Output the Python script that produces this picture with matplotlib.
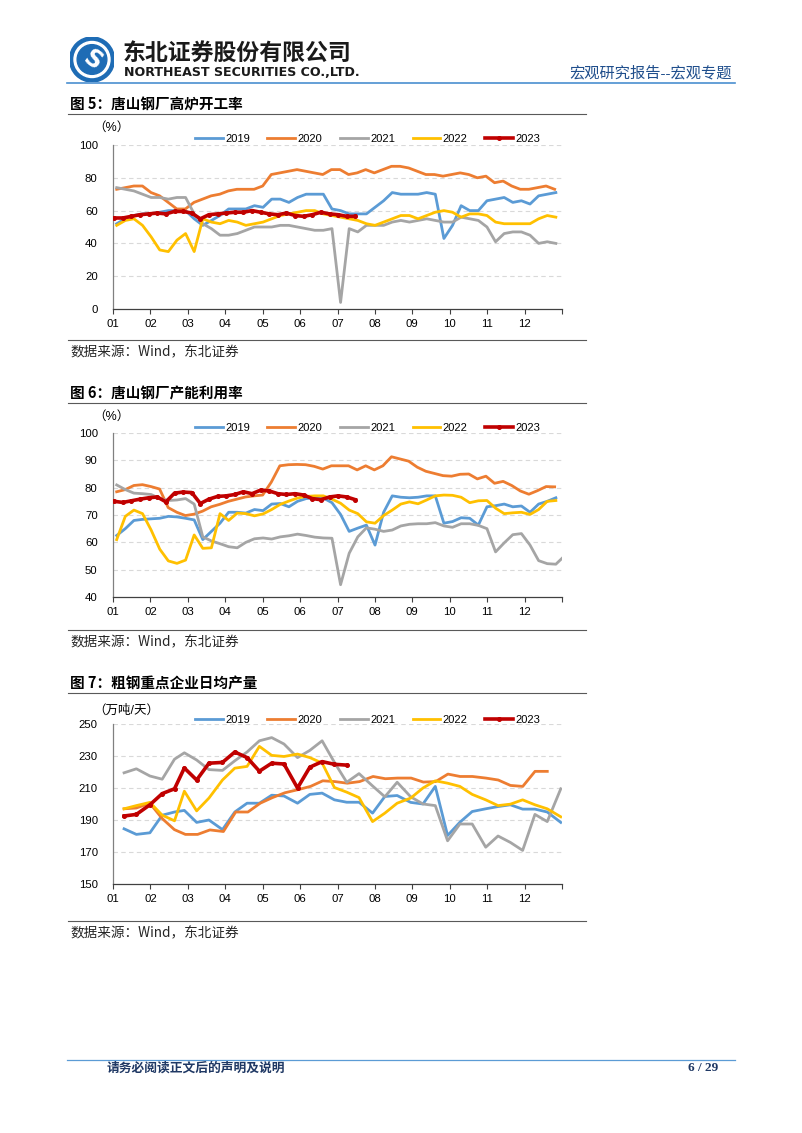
import numpy as np
import pandas as pd
import matplotlib
matplotlib.use("Agg")
import matplotlib.pyplot as plt
from matplotlib.patches import Circle
from matplotlib.lines import Line2D

plt.rcParams['font.family'] = ['Liberation Sans', 'Noto Sans CJK SC']

W, H = 802, 1133

# 图5 唐山钢厂高炉开工率 (%), 周度
bf_2019 = [52, 55, 57, 58, 58, 59, 60, 60, 60, 55, 51, 54, 57, 61, 61, 61, 63, 62, 67, 67,
           65, 68, 70, 70, 70, 61, 60, 58, 58, 58, 62, 66, 71, 70, 70, 70, 71, 70, 43, 51,
           63, 60, 60, 66, 67, 68, 65, 66, 64, 69, 70, 71]
bf_2020 = [73, 74, 75, 75, 71, 69, 65, 61, 61, 65, 67, 69, 70, 72, 73, 73, 73, 75, 82, 83,
           84, 85, 84, 83, 82, 85, 85, 82, 83, 85, 83, 85, 87, 87, 86, 84, 82, 82, 81, 82,
           83, 82, 80, 81, 77, 78, 75, 73, 73, 74, 75, 73]
bf_2021 = [74, 73, 72, 70, 68, 68, 67, 68, 68, 58, 52, 49, 45, 45, 46, 48, 50, 50, 50, 51,
           51, 50, 49, 48, 48, 49, 4, 49, 47, 51, 51, 51, 53, 54, 53, 54, 55, 54, 53, 53,
           56, 55, 54, 50, 41, 46, 47, 47, 45, 40, 41, 40]
bf_2022 = [51, 54, 55, 51, 44, 36, 35, 42, 46, 35, 55, 53, 52, 54, 53, 51, 52, 53, 55, 57,
           58, 59, 60, 60, 58, 57, 56, 55, 54, 52, 51, 53, 55, 57, 57, 55, 57, 59, 60, 59,
           56, 58, 58, 57, 53, 52, 52, 52, 52, 55, 57, 56]
bf_2023 = [55.5, 55.5, 56.5, 57.5, 58, 58.5, 58, 59.5, 59.5, 58.5, 55, 57.5, 58, 58.5, 59,
           59, 60, 59, 58, 57.5, 58.5, 57, 56.5, 57.5, 59, 58, 57.5, 56.5, 56.5]

# 图6 唐山钢厂产能利用率 (%), 周度
cu_2019 = [62.5, 65, 68, 68.4, 68.6, 68.8, 69.5, 69.3, 68.8, 68.2, 61, 64, 67, 71, 71,
           70.7, 72, 71.6, 74, 74.2, 73, 75, 76, 76.3, 76.2, 74.5, 70.2, 64, 65.2, 66.3,
           59, 71, 77, 76.5, 76.3, 76.5, 77, 77, 67, 67.6, 69, 68.8, 66.3, 73, 73.4,
           74, 73, 73.3, 71, 74, 75, 76.3]
cu_2020 = [78.5, 79.3, 80.8, 81.1, 80.4, 79.5, 72.7, 71, 69.8, 70.3, 71.4, 73, 73.9, 75,
           75.8, 76.6, 77, 77.3, 82, 88, 88.4, 88.5, 88.4, 87.8, 86.8, 88, 88, 88, 86.5,
           88, 86.5, 88, 91.3, 90.5, 89.7, 87.5, 86, 85.2, 84.4, 84.2, 84.9, 85, 83.2,
           84.2, 81.6, 82.3, 80.8, 78.8, 77.6, 78.9, 80.4, 80.3]
cu_2021 = [81, 79.3, 78, 77.8, 77.5, 76, 75.3, 75.5, 76, 74, 62, 60.5, 59.5, 58.4, 58, 60,
           61.3, 61.6, 61.2, 62, 62.4, 63, 62.5, 61.9, 61.6, 61.5, 44.5, 56, 62, 65.3,
           64.8, 64, 64.5, 66, 66.6, 66.8, 66.8, 67.2, 66, 65.5, 66.8, 66.8, 66.2, 65,
           56.5, 59.8, 62.8, 63.2, 59, 53.3, 52.2, 52, 55]
cu_2022 = [61, 69.5, 71.8, 70.5, 64.5, 57.5, 53.2, 52.3, 53.5, 62.7, 57.8, 58, 70.5, 68,
           70.7, 70.5, 69.7, 70.4, 72, 73.9, 75.1, 76.2, 76.8, 77, 77, 75.8, 74.3, 71.8,
           70.5, 67.5, 67, 69.8, 71.8, 74, 74.8, 74.1, 75.5, 77, 77.3, 77.2, 76.5, 74.5,
           75.2, 75.3, 72.5, 70.5, 70.8, 71, 70.2, 72, 75, 75.3]
cu_2023 = [75, 74.6, 75.2, 75.8, 76.3, 76.6, 74.8, 78, 78.4, 78.2, 74.2, 75.8, 76.8, 77,
           77.5, 78.5, 77.8, 79.1, 78.8, 77.8, 77.5, 77.8, 77.3, 76, 75.6, 76.6, 77, 76.6,
           75.6]

# 图7 粗钢重点企业日均产量 (万吨/天), 旬度
cs_2019 = [184.5, 181, 182, 193, 195, 196, 188.5, 190, 184, 195, 200.5, 200.5, 205.5, 205,
           200.5, 206, 206.8, 202.6, 201.1, 201.1, 194.3, 204.7, 205.3, 201, 200, 211,
           180.3, 188.6, 195.3, 197, 198.4, 199.5, 196.8, 196.8, 195, 188.5]
cs_2020 = [197, 197.5, 200.5, 191, 184, 181, 181, 183.8, 182.8, 195, 195, 200.5, 204, 207,
           209, 211, 214.5, 214, 213, 214, 217.2, 215.8, 216.2, 216.2, 213.7, 214, 218.7,
           217.2, 217.2, 216.2, 215, 211.6, 211, 220.4, 220.4]
cs_2021 = [219.5, 222, 217.5, 215.5, 228, 232, 227.5, 221.5, 221, 227, 232.5, 239.5, 241.5,
           237.5, 229, 233.5, 239.5, 226, 213.6, 219, 211.3, 204.5, 213.6, 204.5, 200, 199,
           177, 187.5, 187.5, 173, 180, 176, 171, 193.5, 189, 209.5]
cs_2022 = [197, 199, 201, 193, 189.5, 208, 195.7, 203.7, 215, 222.4, 223.5, 236, 230.4,
           229.7, 231.2, 229, 225.6, 210.3, 207.4, 204, 189, 194.3, 200.5, 203.7, 210,
           214.5, 213, 211, 206, 202.6, 199, 199.9, 202.6, 199.5, 197, 192]
cs_2023 = [192.5, 193.5, 199.5, 206.5, 209.5, 222.5, 215, 225.5, 226, 232.5, 229, 220.5,
           225.5, 225, 210, 223, 226.5, 224.8, 224.3]

years = ['2019', '2020', '2021', '2022', '2023']
colors = ['#5B9BD5', '#ED7D31', '#A5A5A5', '#FFC000', '#C00000']
month_labels = ['01', '02', '03', '04', '05', '06', '07', '08', '09', '10', '11', '12']


def year_pos(dates, year):
    # 把日期换算成 0-12 的月份坐标(以当年1月1日为起点)
    jan1 = pd.Timestamp(f'{year}-01-01')
    days = 366 if jan1.is_leap_year else 365
    return np.asarray((dates - jan1).days, dtype=float) / days * 12


def weekly(year, n, last):
    first_day = 2 if last else 4
    d = pd.date_range(f'{year}-01-{first_day:02d}', periods=n, freq='7D')
    return year_pos(d, year)


def dekad(year, n, last):
    dates = []
    for m in range(1, 13):
        start = pd.Timestamp(f'{year}-{m:02d}-01')
        dates += [start + pd.Timedelta(days=9), start + pd.Timedelta(days=19),
                  start + pd.offsets.MonthEnd(0)]
    return year_pos(pd.DatetimeIndex(dates[:n]), year)


def px_ax(left, top, right, bottom):
    return [left / W, 1 - bottom / H, (right - left) / W, (bottom - top) / H]


def fx(x):
    return x / W


def fy(y):
    return 1 - y / H


fig = plt.figure(figsize=(W / 100, H / 100), dpi=100)


def draw_chart(top, bottom, series, xfunc, ylim, yticks, unit, unit_y, leg_y):
    ax = fig.add_axes(px_ax(113, top, 562, bottom))
    for i, (yr, vals) in enumerate(zip(years, series)):
        last = yr == '2023'
        x = xfunc(yr, len(vals), last)
        if last:
            ax.plot(x, vals, color=colors[i], lw=2.6, marker='o', ms=2.6, zorder=6)
        else:
            ax.plot(x, vals, color=colors[i], lw=2.0, zorder=2 + i)
    ax.set_xlim(0, 12)
    ax.set_ylim(*ylim)
    ax.set_yticks(yticks)
    ax.set_xticks(range(13))
    ax.set_xticklabels(month_labels + [''])
    for yv in yticks[1:]:
        ax.axhline(yv, color='#D9D9D9', lw=0.8, ls=(0, (4, 3)), zorder=1)
    for s in ['top', 'right']:
        ax.spines[s].set_visible(False)
    ax.spines['left'].set_color('#808080')
    ax.spines['bottom'].set_color('#404040')
    ax.spines['left'].set_linewidth(0.9)
    ax.spines['bottom'].set_linewidth(0.9)
    ax.tick_params(axis='y', length=0, pad=11, labelsize=8.2, colors='#000000')
    ax.tick_params(axis='x', length=3.5, width=0.8, pad=4, labelsize=8.2,
                   direction='out', color='#404040')
    handles = [Line2D([], [], color=c, lw=2.6 if y == '2023' else 2.0,
                      marker='o' if y == '2023' else None, ms=2.6)
               for y, c in zip(years, colors)]
    ax.legend(handles, years, loc='center', ncol=5, frameon=False, fontsize=8,
              bbox_to_anchor=(0.567, (bottom - leg_y) / (bottom - top)),
              handlelength=2.5, handletextpad=0.2, columnspacing=1.6,
              borderaxespad=0, borderpad=0)
    fig.text(fx(93), fy(unit_y), unit, fontsize=9, ha='left', va='center')
    return ax


# 页眉
lax = fig.add_axes(px_ax(69, 37, 115, 82))
lax.set_xlim(-1, 1)
lax.set_ylim(-1, 1)
lax.set_aspect('equal')
lax.axis('off')
lax.add_patch(Circle((0, 0), 1.0, color='#1E6CB5'))
lax.add_patch(Circle((0, 0), 0.8, color='white'))
lax.add_patch(Circle((0, 0), 0.66, color='#1E6CB5'))
lax.text(0, -0.02, 'S', color='white', fontsize=17, fontweight='bold',
         ha='center', va='center', rotation=-35, family='DejaVu Sans')

fig.text(fx(123), fy(53), '东北证券股份有限公司', fontsize=16.5, fontweight='heavy',
         family=['Noto Sans CJK SC'], color='#1A1A1A', ha='left', va='center')
fig.text(fx(124), fy(72), 'NORTHEAST SECURITIES CO.,LTD.', fontsize=9.1, fontweight='bold',
         family=['DejaVu Sans'], color='#1A1A1A', ha='left', va='center')
fig.text(fx(732), fy(73), '宏观研究报告--宏观专题', fontsize=11, color='#1F4E8C',
         ha='right', va='center')
fig.add_artist(Line2D([fx(67), fx(735)], [fy(83), fy(83)], color='#4A8FD0', lw=1.2))

# 三张图
charts = [
    (104, '图 5：唐山钢厂高炉开工率', 145, 309, [bf_2019, bf_2020, bf_2021, bf_2022, bf_2023],
     weekly, (0, 100), [0, 20, 40, 60, 80, 100], '（%）', 128, 139, 352),
    (393, '图 6：唐山钢厂产能利用率', 433, 597, [cu_2019, cu_2020, cu_2021, cu_2022, cu_2023],
     weekly, (40, 100), [40, 50, 60, 70, 80, 90, 100], '（%）', 417, 428, 642),
    (683, '图 7：粗钢重点企业日均产量', 724, 884, [cs_2019, cs_2020, cs_2021, cs_2022, cs_2023],
     dekad, (150, 250), [150, 170, 190, 210, 230, 250], '（万吨/天）', 711, 720, 933),
]

for ty, title, top, bottom, series, xf, ylim, yticks, unit, unit_y, leg_y, src_y in charts:
    fig.text(fx(70), fy(ty), title, fontsize=10.5, fontweight='bold', ha='left', va='center',
             family=['Noto Sans CJK SC'])
    fig.add_artist(Line2D([fx(68), fx(586)], [fy(ty + 10), fy(ty + 10)],
                          color='#595959', lw=0.8))
    draw_chart(top, bottom, series, xf, ylim, yticks, unit, unit_y, leg_y)
    fig.add_artist(Line2D([fx(68), fx(586)], [fy(src_y - 12), fy(src_y - 12)],
                          color='#595959', lw=0.8))
    fig.text(fx(70), fy(src_y), '数据来源：Wind，东北证券', fontsize=9.8, ha='left',
             va='center', family=['Noto Sans CJK SC'], color='#262626')

# 页脚
fig.add_artist(Line2D([fx(67), fx(735)], [fy(1060), fy(1060)], color='#5B9BD5', lw=0.9))
fig.text(fx(107), fy(1068), '请务必阅读正文后的声明及说明', fontsize=9.2, fontweight='bold',
         color='#1F3864', ha='left', va='center', family=['Noto Sans CJK SC'])
fig.text(fx(718), fy(1068), '6 / 29', fontsize=9.5, fontweight='bold', color='#1F3864',
         ha='right', va='center', family=['Liberation Serif'])

fig.savefig('out.png', dpi=100)
